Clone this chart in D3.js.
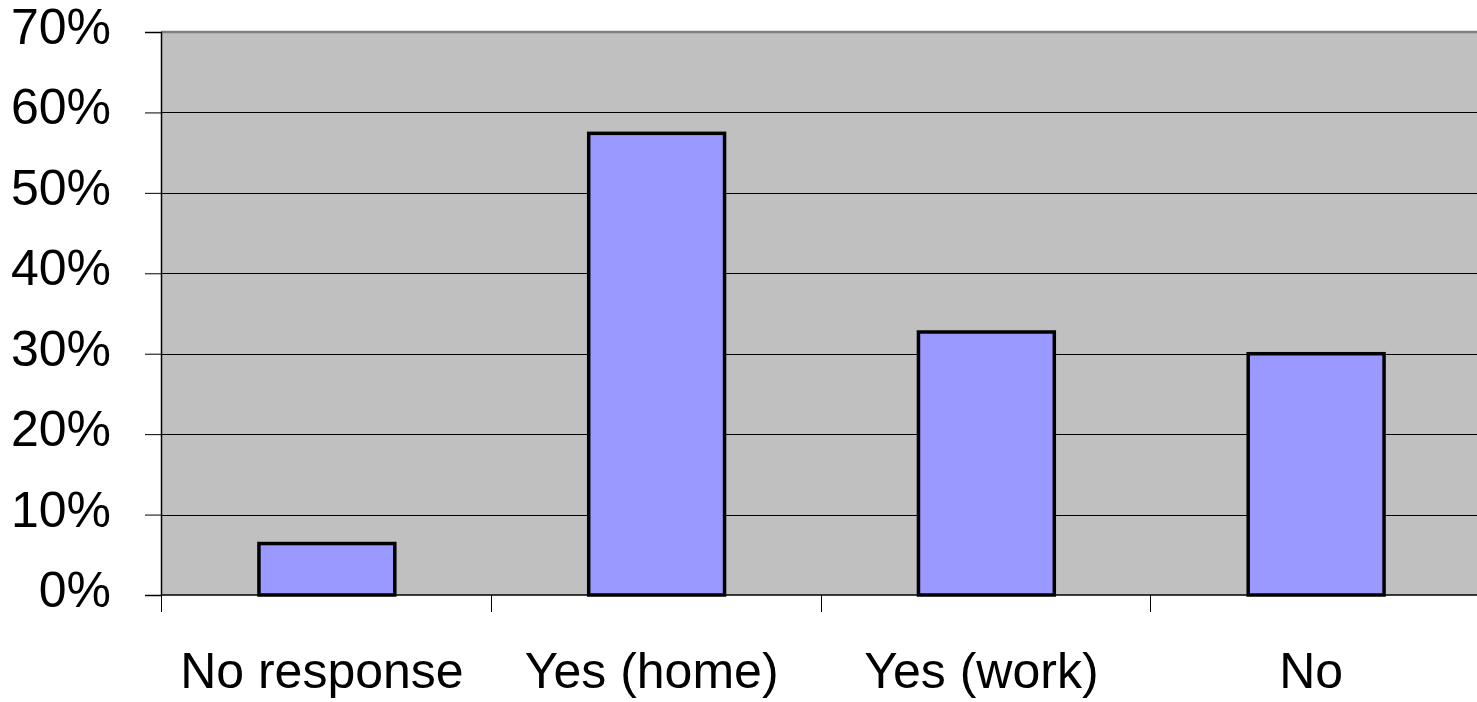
<!DOCTYPE html>
<html>
<head>
<meta charset="utf-8">
<script src="https://cdn.jsdelivr.net/npm/d3@7"></script>
<style>
  html, body { margin: 0; padding: 0; background: #fff; }
  svg { display: block; }
  text { font-family: "Liberation Sans", Arial, sans-serif; fill: #000; }
</style>
</head>
<body>
<svg id="chart" width="1477" height="702"></svg>
<script>
const categories = ["No response", "Yes (home)", "Yes (work)", "No"];
const values = [0.064, 0.574, 0.327, 0.300];
const yTicks = [0, 0.1, 0.2, 0.3, 0.4, 0.5, 0.6, 0.7];

const svg = d3.select("#chart");
const pL = 161, pR = 1480, pT = 32, pB = 595;

const x = d3.scaleBand().domain(categories).range([pL, pR])
  .paddingInner(0.588).paddingOuter(0.294);
const y = d3.scaleLinear().domain([0, 0.7]).range([pB, pT]);

// plot background
svg.append("rect").attr("x", pL).attr("y", pT)
  .attr("width", pR - pL).attr("height", pB - pT)
  .attr("fill", "#c0c0c0");

// top border
svg.append("line").attr("x1", pL).attr("x2", pR)
  .attr("y1", pT).attr("y2", pT)
  .attr("stroke", "#808080").attr("stroke-width", 2.5);

// gridlines
svg.append("g").selectAll("line").data(yTicks.filter(d => d > 0 && d < 0.7)).join("line")
  .attr("x1", pL).attr("x2", pR)
  .attr("y1", d => Math.round(y(d)) + 0.5).attr("y2", d => Math.round(y(d)) + 0.5)
  .attr("stroke", "#000").attr("stroke-width", 1);

// bars
svg.append("g").selectAll("rect").data(values).join("rect")
  .attr("x", (d, i) => x(categories[i]) + 1)
  .attr("y", d => y(d))
  .attr("width", x.bandwidth())
  .attr("height", d => pB - y(d))
  .attr("fill", "#9999ff")
  .attr("stroke", "#000")
  .attr("stroke-width", 3.5);

// y axis
const yAxis = d3.axisLeft(y).tickValues(yTicks).tickFormat(d3.format(".0%"))
  .tickSize(16).tickPadding(34);
const gy = svg.append("g").attr("transform", `translate(${pL},0)`).call(yAxis);
gy.select(".domain").attr("stroke", "#000").attr("stroke-width", 1.5);
gy.selectAll(".tick line").attr("stroke", "#000").attr("stroke-width", 1);
gy.selectAll(".tick text")
  .attr("font-size", 50).attr("font-family", "Liberation Sans, Arial, sans-serif")
  .attr("dy", "0.32em").attr("y", -4.5).attr("fill", "#000");

// x axis (ticks at band edges)
const edges = categories.map(c => x(c) - x.step() * x.paddingInner() / 2);
const gx = svg.append("g");
gx.append("line").attr("x1", pL).attr("x2", pR)
  .attr("y1", pB).attr("y2", pB)
  .attr("stroke", "#000").attr("stroke-width", 1.5);
gx.selectAll("line.tk").data(edges).join("line").attr("class", "tk")
  .attr("x1", d => Math.round(d) + 0.5).attr("x2", d => Math.round(d) + 0.5)
  .attr("y1", pB).attr("y2", pB + 17)
  .attr("stroke", "#000").attr("stroke-width", 1);
gx.selectAll("text").data(categories).join("text")
  .attr("x", d => x(d) + x.bandwidth() / 2 - 4)
  .attr("y", 688)
  .attr("text-anchor", "middle")
  .attr("font-size", 50)
  .text(d => d);
</script>
</body>
</html>
